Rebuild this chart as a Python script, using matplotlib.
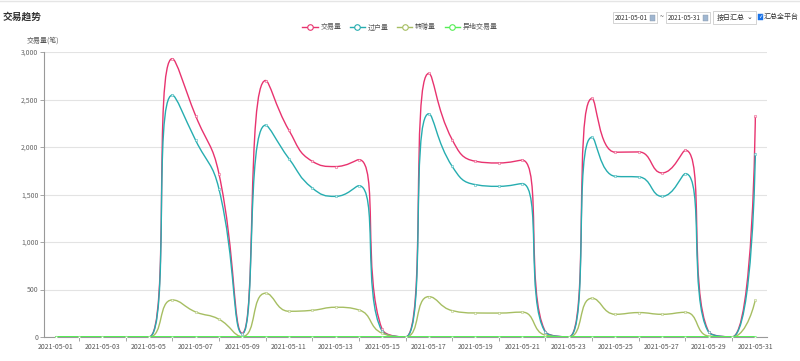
import numpy as np
import matplotlib
matplotlib.use('Agg')
import matplotlib.pyplot as plt
from matplotlib.path import Path
from matplotlib.patches import PathPatch, Rectangle
from matplotlib.lines import Line2D

plt.rcParams['font.family'] = ['Noto Sans CJK SC', 'DejaVu Sans']

days = [f"2021-05-{d:02d}" for d in range(1, 32)]

trade = [0, 0, 0, 0, 0, 2930, 2330, 1720, 40, 2700, 2177, 1850, 1794, 1867, 80, 0,
         2775, 2078, 1850, 1832, 1862, 56, 0, 2511, 1945, 1948, 1727, 1966, 56, 0, 2324]
transfer = [0, 0, 0, 0, 0, 2546, 2071, 1560, 35, 2230, 1878, 1569, 1480, 1593, 60, 0,
            2350, 1797, 1604, 1586, 1615, 50, 0, 2103, 1691, 1685, 1480, 1720, 50, 0, 1931]
gift = [0, 0, 0, 0, 0, 390, 264, 187, 5, 461, 271, 281, 313, 285, 40, 0,
        425, 278, 253, 252, 262, 20, 0, 408, 239, 257, 239, 260, 10, 0, 390]
remote = [0] * 31

series = [
    ("交易量", trade, "#e8336f"),
    ("过户量", transfer, "#26adb0"),
    ("转赠量", gift, "#a6be62"),
    ("异地交易量", remote, "#55ee55"),
]


def echarts_smooth(ax, xs, ys, smooth=0.5):
    """Bezier path like echarts' smooth line, built in pixel space."""
    pts = ax.transData.transform(np.column_stack([xs, ys]))
    verts = [tuple(pts[0])]
    codes = [Path.MOVETO]
    cpx0, cpy0 = pts[0]
    n = len(pts)
    for i in range(1, n):
        x, y = pts[i]
        prevX, prevY = pts[i - 1]
        nextCpx0, nextCpy0 = x, y
        if i == n - 1:
            cpx1, cpy1 = x, y
        else:
            nextX, nextY = pts[i + 1]
            vx, vy = nextX - prevX, nextY - prevY
            lenPrev = np.hypot(x - prevX, y - prevY)
            lenNext = np.hypot(nextX - x, nextY - y)
            ratio = lenNext / (lenNext + lenPrev)
            nextCpx0 = x + vx * smooth * ratio
            nextCpy0 = y + vy * smooth * ratio
            nextCpx0 = min(nextCpx0, max(nextX, x))
            nextCpy0 = min(nextCpy0, max(nextY, y))
            nextCpx0 = max(nextCpx0, min(nextX, x))
            nextCpy0 = max(nextCpy0, min(nextY, y))
            vx, vy = nextCpx0 - x, nextCpy0 - y
            cpx1 = x - vx * lenPrev / lenNext
            cpy1 = y - vy * lenPrev / lenNext
            cpx1 = min(cpx1, max(prevX, x))
            cpy1 = min(cpy1, max(prevY, y))
            cpx1 = max(cpx1, min(prevX, x))
            cpy1 = max(cpy1, min(prevY, y))
            vx, vy = x - cpx1, y - cpy1
            nextCpx0 = x + vx * lenNext / lenPrev
            nextCpy0 = y + vy * lenNext / lenPrev
        verts += [(cpx0, cpy0), (cpx1, cpy1), (x, y)]
        codes += [Path.CURVE4] * 3
        cpx0, cpy0 = nextCpx0, nextCpy0
    verts = ax.transData.inverted().transform(np.array(verts))
    return Path(verts, codes)


fig = plt.figure(figsize=(8, 3.61), dpi=100)
ax = fig.add_axes([44 / 800, 24 / 361, 723 / 800, 285 / 361])
xs = np.arange(len(days))
ax.set_xlim(-0.5, len(days) - 0.5)
ax.set_ylim(0, 3000)

for name, vals, color in series:
    if name == "异地交易量":
        ax.plot(xs, vals, color=color, lw=1.4, zorder=5)
    else:
        path = echarts_smooth(ax, xs, vals)
        ax.add_patch(PathPatch(path, fill=False, edgecolor=color, lw=1.0, zorder=3))
    ax.plot(xs, vals, 'o', ms=1.8, mfc='white', mec=color, mew=0.4, alpha=0.8, zorder=6)

# axes styling
for s in ['top', 'right']:
    ax.spines[s].set_visible(False)
for s in ['left', 'bottom']:
    ax.spines[s].set_color('#999999')
    ax.spines[s].set_linewidth(0.8)
ax.set_yticks(np.arange(0, 3001, 500))
ax.set_yticklabels([f"{v:,}" for v in range(0, 3001, 500)])
ax.yaxis.grid(True, color='#e3e3e3', lw=0.8)
ax.set_axisbelow(True)
ax.tick_params(axis='y', length=3, width=0.6, color='#999999', labelsize=5, labelcolor='#666666', pad=1)
ax.set_xticks(xs[::2])
ax.set_xticklabels(days[::2])
ax.set_xticks(xs[1::2], minor=True)
ax.tick_params(axis='x', which='major', length=0, labelsize=5, labelcolor='#555555', pad=4)
ax.tick_params(axis='x', which='minor', length=3, width=0.6, color='#999999')

fig.text(43 / 800, 1 - 41 / 361, "交易量(笔)", fontsize=5, color='#555555', ha='center', va='center')

# title and top line
fig.add_artist(Line2D([0, 1], [1 - 1 / 361, 1 - 1 / 361], color='#e5e5e5', lw=1.0))
fig.text(3 / 800, 1 - 17 / 361, "交易趋势", fontsize=7, color='#333333', ha='left', va='center',
         fontweight='bold')

# legend
handles = [Line2D([0], [0], color=c, lw=1.0, marker='o', ms=4, mfc='white', mec=c, mew=0.8)
           for _, _, c in series]
leg = fig.legend(handles, [n for n, _, _ in series], loc='center', ncol=4,
                 bbox_to_anchor=(400 / 800, 1 - 27 / 361), frameon=False, fontsize=5,
                 handlelength=2.2, columnspacing=1.2, handletextpad=0.4)
for t in leg.get_texts():
    t.set_color('#555555')

# top-right controls
def box(x0, x1, y0, y1):
    fig.add_artist(Rectangle((x0 / 800, 1 - y1 / 361), (x1 - x0) / 800, (y1 - y0) / 361,
                             facecolor='white', edgecolor='#cccccc', lw=0.6))

box(613, 657, 12, 23)
fig.text(615 / 800, 1 - 17.5 / 361, "2021-05-01", fontsize=4.6, color='#333333', va='center')
fig.add_artist(Rectangle((650 / 800, 1 - 21 / 361), 5 / 800, 6 / 361, facecolor='#9fb6d0',
                         edgecolor='#8899aa', lw=0.3))
fig.text(662 / 800, 1 - 17.5 / 361, "~", fontsize=5, color='#333333', ha='center', va='center')
box(666, 710, 12, 23)
fig.text(668 / 800, 1 - 17.5 / 361, "2021-05-31", fontsize=4.6, color='#333333', va='center')
fig.add_artist(Rectangle((703 / 800, 1 - 21 / 361), 5 / 800, 6 / 361, facecolor='#9fb6d0',
                         edgecolor='#8899aa', lw=0.3))
box(713, 756, 11, 24)
fig.text(717 / 800, 1 - 17.5 / 361, "按日汇总", fontsize=5, color='#333333', va='center')
fig.text(749 / 800, 1 - 17 / 361, "⌄", fontsize=5, color='#333333', ha='center', va='center')
fig.add_artist(Rectangle((758 / 800, 1 - 20 / 361), 5 / 800, 6 / 361, facecolor='#1a73e8',
                         edgecolor='#1a73e8', lw=0.3))
fig.text(760.5 / 800, 1 - 17 / 361, "✓", fontsize=4, color='white', ha='center', va='center',
         family='DejaVu Sans')
fig.text(764 / 800, 1 - 17 / 361, "汇总全平台", fontsize=5, color='#333333', va='center')

fig.savefig('out.png', dpi=100)
